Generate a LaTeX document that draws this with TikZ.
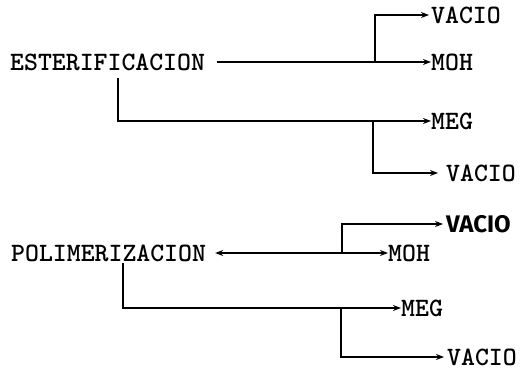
\documentclass[tikz,border=0pt]{standalone}
\usepackage{fontspec}
\newfontfamily\hw{Fira Sans}
\usetikzlibrary{arrows.meta}
\begin{document}
\begin{tikzpicture}[x=1pt,y=-1pt,
  lbl/.style={font=\ttfamily\bfseries\fontsize{26.5}{26.5}\selectfont, inner sep=0pt, anchor=west},
  hand/.style={font=\hw\bfseries\fontsize{24}{24}\selectfont, inner sep=0pt, anchor=west},
  ln/.style={line width=1.5pt},
  arr/.style={ln, -{Stealth[length=8pt,width=6pt]}}]
\useasboundingbox (0,0) rectangle (527,371);
% top group
\node[lbl] (est) at (10,62) {ESTERIFICACION};
\node[lbl] (vac1) at (431,15) {VACIO};
\node[lbl] (moh1) at (431,62) {MOH};
\node[lbl] (meg1) at (431,121) {MEG};
\node[lbl] (vac2) at (446,173) {VACIO};
\coordinate (b1) at (375,62);
\coordinate (e1) at (118,78);
\coordinate (b2) at (373,121);
\draw[arr] ([xshift=12pt]est.east) -- (moh1.west);
\draw[arr, shorten >=2pt] (b1) |- (vac1.west);
\draw[arr] (e1) |- (meg1.west);
\draw[arr, shorten >=8pt] (b2) |- (vac2.west);
% bottom group
\node[lbl] (pol) at (11,253) {POLIMERIZACION};
\node[hand] (vac3) at (446,224) {VACIO};
\node[lbl] (moh2) at (388,253) {MOH};
\node[lbl] (meg2) at (401,308) {MEG};
\node[lbl] (vac4) at (447,357) {VACIO};
\coordinate (b3) at (342,253);
\coordinate (p1) at (123,263);
\coordinate (b4) at (341,308);
\draw[arr] (b3) -- ([xshift=9pt]pol.east);
\draw[arr] (b3) -- (moh2.west);
\draw[arr, shorten >=3pt] (b3) |- (vac3.west);
\draw[arr] (p1) |- (meg2.west);
\draw[arr, shorten >=3pt] (b4) |- (vac4.west);
\end{tikzpicture}
\end{document}
